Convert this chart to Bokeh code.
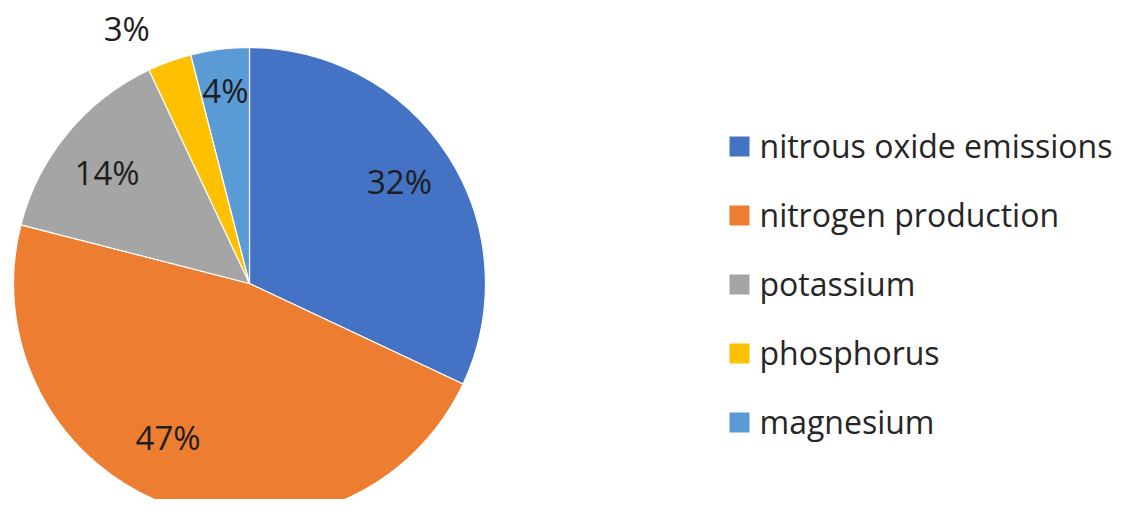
import numpy as np
from bokeh.plotting import figure
from bokeh.models import ColumnDataSource
from bokeh.core.properties import value
from bokeh.embed import file_html
from bokeh.resources import INLINE

categories = ["nitrous oxide emissions", "nitrogen production", "potassium", "phosphorus", "magnesium"]
percents = [32, 47, 14, 3, 4]
labels = ["32%", "47%", "14%", "3%", "4%"]
colors = ["#4472C4", "#ED7D31", "#A5A5A5", "#FFC000", "#5B9BD5"]

# layout
W, H = 1112, 499
cx, cy, R = 249, H - 283, 236
label_rf = [0.763, 0.747, 0.761, 1.19, 0.816]   # label distance as fraction of radius
label_shift = [1.2, -7.7, 2.1, 6.1, 0.0]         # angular nudges (deg)

vals = np.array(percents, dtype=float)
frac = vals / vals.sum()
cum = np.concatenate([[0], np.cumsum(frac)])
start = np.pi / 2 - 2 * np.pi * cum[:-1]
end = np.pi / 2 - 2 * np.pi * cum[1:]
mid = (start + end) / 2 + np.radians(label_shift)

src = ColumnDataSource(dict(start=start, end=end, color=colors, cat=categories))

p = figure(width=W, height=H, x_range=(0, W), y_range=(0, H),
           output_backend="svg", toolbar_location=None, min_border=0)
p.axis.visible = False
p.grid.visible = False
p.outline_line_color = None
p.background_fill_color = "white"

p.wedge(x=cx, y=cy, radius=R, start_angle="start", end_angle="end", direction="clock",
        fill_color="color", line_color="white", line_width=1.2, source=src)

lx = cx + np.array(label_rf) * R * np.cos(mid)
ly = cy + np.array(label_rf) * R * np.sin(mid) + 2
p.text(x=lx, y=ly, text=labels, text_align="center", text_baseline="middle",
       text_font=value("Open Sans"), text_font_size="33px", text_color="#1e1e1e")

# legend
n = len(categories)
leg_x, leg_y0, leg_step = 739, H - 146, 69
ys = leg_y0 - np.arange(n) * leg_step
p.rect(x=[leg_x] * n, y=ys, width=20, height=20, fill_color=colors, line_color=None)
p.text(x=[leg_x + 20] * n, y=ys + 1, text=categories, text_align="left", text_baseline="middle",
       text_font=value("Open Sans"), text_font_size="32px", text_color="#262626")

open("out.html", "w").write(file_html(p, INLINE))
